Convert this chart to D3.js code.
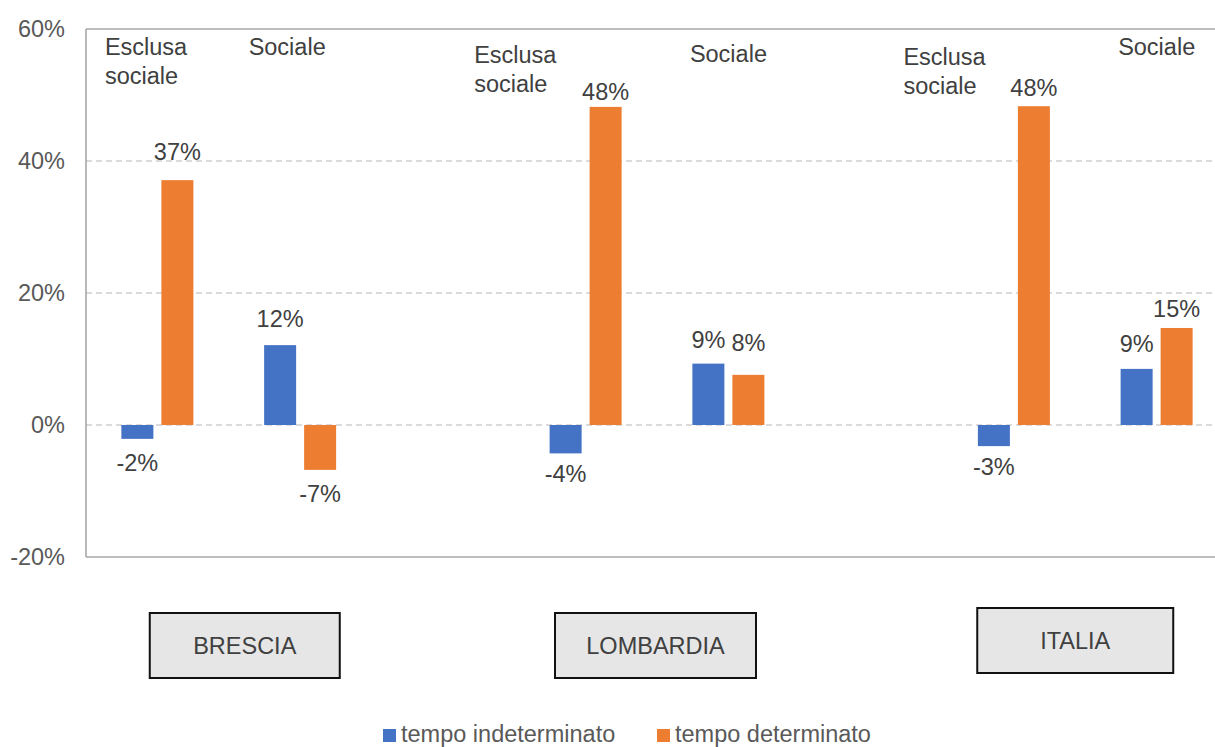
<!DOCTYPE html>
<html>
<head>
<meta charset="utf-8">
<script src="https://cdn.jsdelivr.net/npm/d3@7/dist/d3.min.js"></script>
<style>
  html, body { margin: 0; padding: 0; background: #ffffff; }
  svg { display: block; font-family: "Liberation Sans", Arial, sans-serif; }
</style>
</head>
<body>
<svg id="chart" width="1215" height="747"></svg>
<script>
// Categories along the x axis (blank slots separate the three territories)
const categories = [
  "BRESCIA · Esclusa sociale", "BRESCIA · Sociale", "gap-1",
  "LOMBARDIA · Esclusa sociale", "LOMBARDIA · Sociale", "gap-2",
  "ITALIA · Esclusa sociale", "ITALIA · Sociale"
];
const seriesNames = ["tempo indeterminato", "tempo determinato"];
// Percentage change per category (null = empty slot)
const indeterminato = [-0.021, 0.121, null, -0.043, 0.093, null, -0.032, 0.085];
const determinato   = [ 0.371, -0.068, null, 0.482, 0.076, null, 0.483, 0.147];
const yTicks = [-0.2, 0, 0.2, 0.4, 0.6];
const territories = ["BRESCIA", "LOMBARDIA", "ITALIA"];
const subLabels = [["Esclusa", "sociale"], ["Sociale"]];

const colors = { "tempo indeterminato": "#4472C4", "tempo determinato": "#ED7D31" };
const textColor = "#404040";
const fontSize = 23.5;

// Percent format with a plain hyphen for negatives
const pct = d3.formatLocale({ decimal: ",", thousands: ".", grouping: [3], currency: ["", "€"], minus: "-" }).format(".0%");

const svg = d3.select("#chart");
const plotLeft = 86, plotTop = 29, plotBottom = 557;
const step = 142.75;
const plotRight = plotLeft + step * categories.length;

const x = d3.scaleBand().domain(categories).range([plotLeft, plotRight]).paddingInner(0).paddingOuter(0);
const y = d3.scaleLinear().domain([-0.2, 0.6]).range([plotBottom, plotTop]);
const bw = x.bandwidth();
const xs = d3.scaleBand().domain(seriesNames).range([bw / 2 - 36, bw / 2 + 36]).paddingInner(0.2);

// Dashed gridlines (inner ticks)
svg.append("g").selectAll("line")
  .data(yTicks.filter(t => t > -0.2 && t < 0.6))
  .join("line")
  .attr("x1", plotLeft).attr("x2", plotRight)
  .attr("y1", d => y(d)).attr("y2", d => y(d))
  .attr("stroke", "#d0d0d0").attr("stroke-width", 1.5)
  .attr("stroke-dasharray", "6,4");

// Plot frame: top, left and bottom edges
const frame = svg.append("g").attr("stroke", "#a9a6a6").attr("stroke-width", 1.6).attr("fill", "none");
frame.append("line").attr("x1", plotLeft).attr("x2", plotRight).attr("y1", y(0.6)).attr("y2", y(0.6));
frame.append("line").attr("x1", plotLeft).attr("x2", plotRight).attr("y1", y(-0.2)).attr("y2", y(-0.2));
frame.append("line").attr("x1", plotLeft).attr("x2", plotLeft).attr("y1", y(0.6)).attr("y2", y(-0.2));

// Y axis tick labels
const yAxis = d3.axisLeft(y).tickValues(yTicks).tickFormat(pct).tickSize(0).tickPadding(21);
const gy = svg.append("g").attr("transform", `translate(${plotLeft},0)`).call(yAxis);
gy.select(".domain").remove();
gy.selectAll("text")
  .attr("font-size", fontSize).attr("fill", "#595959")
  .attr("font-family", "Liberation Sans, Arial, sans-serif");

// Bars
const rows = [];
categories.forEach((c, i) => {
  [["tempo indeterminato", indeterminato[i], 0], ["tempo determinato", determinato[i], 1]].forEach(([s, v, k]) => {
    if (v !== null) rows.push({ c, s, v, i, k });
  });
});

const bars = svg.append("g");
bars.selectAll("rect").data(rows).join("rect")
  .attr("x", d => x(d.c) + xs(d.s))
  .attr("width", xs.bandwidth())
  .attr("y", d => y(Math.max(0, d.v)))
  .attr("height", d => Math.abs(y(d.v) - y(0)))
  .attr("fill", d => colors[d.s]);

// Value labels: gap between bar end and label baseline, per category and series
const labelGap = [
  [32, 20], [18, 32.5], null, [28.5, 7], [16, 24], null, [29, 10], [17, 10.5]
];
bars.selectAll("text").data(rows).join("text")
  .attr("x", d => x(d.c) + xs(d.s) + xs.bandwidth() / 2)
  .attr("y", d => d.v >= 0 ? y(d.v) - labelGap[d.i][d.k] : y(d.v) + labelGap[d.i][d.k])
  .attr("text-anchor", "middle")
  .attr("font-size", fontSize).attr("fill", textColor)
  .text(d => pct(d.v));

// Subcategory text boxes placed above each pair of bars
const subPlacement = [
  { c: categories[0], dx: -52.5, base: 55, lines: subLabels[0] },
  { c: categories[1], dx: -51.5, base: 55, lines: subLabels[1] },
  { c: categories[3], dx: -111.5, base: 63, lines: subLabels[0] },
  { c: categories[4], dx: -38.5, base: 62, lines: subLabels[1] },
  { c: categories[6], dx: -110.5, base: 65, lines: subLabels[0] },
  { c: categories[7], dx: -38.5, base: 55, lines: subLabels[1] }
];
const sub = svg.append("g").attr("font-size", fontSize).attr("fill", textColor);
subPlacement.forEach(p => {
  const t = sub.append("text")
    .attr("x", x(p.c) + bw / 2 + p.dx)
    .attr("y", p.base);
  p.lines.forEach((line, i) => {
    t.append("tspan").attr("x", x(p.c) + bw / 2 + p.dx).attr("dy", i === 0 ? 0 : 28.5).text(line);
  });
});

// Territory boxes below the plot
const boxPlacement = [
  { name: territories[0], from: categories[0], to: categories[1], dx: 16, w: 190, y0: 613 },
  { name: territories[1], from: categories[3], to: categories[4], dx: -1.5, w: 201, y0: 613 },
  { name: territories[2], from: categories[6], to: categories[7], dx: -10, w: 196, y0: 608 }
];
const boxes = svg.append("g");
boxPlacement.forEach(b => {
  const cx = (x(b.from) + x(b.to) + bw) / 2 + b.dx;
  boxes.append("rect")
    .attr("x", cx - b.w / 2).attr("y", b.y0)
    .attr("width", b.w).attr("height", 65)
    .attr("fill", "#e6e6e6").attr("stroke", "#111").attr("stroke-width", 2);
  boxes.append("text")
    .attr("x", cx).attr("y", b.y0 + 33).attr("dy", "0.35em")
    .attr("text-anchor", "middle")
    .attr("font-size", fontSize).attr("fill", textColor)
    .text(b.name);
});

// Legend
const legend = svg.append("g");
const legendX = [383, 657];
seriesNames.forEach((s, i) => {
  legend.append("rect").attr("x", legendX[i]).attr("y", 729).attr("width", 13).attr("height", 13).attr("fill", colors[s]);
  legend.append("text").attr("x", legendX[i] + 18).attr("y", 742)
    .attr("font-size", fontSize).attr("fill", "#595959").text(s);
});
</script>
</body>
</html>
